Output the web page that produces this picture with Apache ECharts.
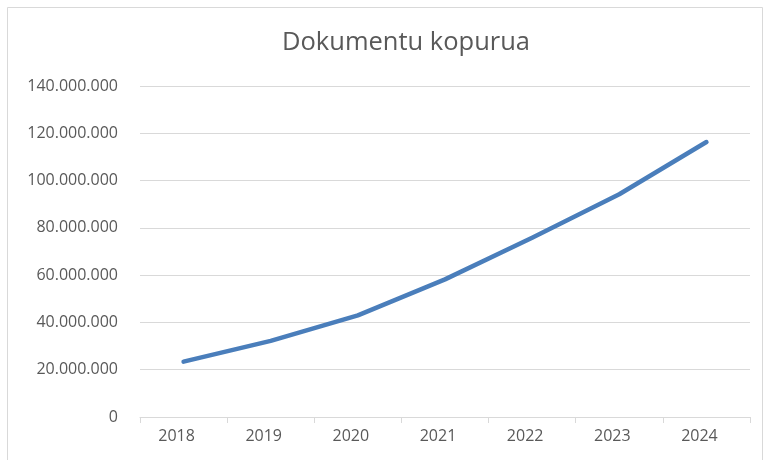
<!DOCTYPE html>
<html>
<head>
<meta charset="utf-8">
<script src="https://cdn.jsdelivr.net/npm/echarts@6/dist/echarts.min.js"></script>
<style>
  html, body { margin: 0; padding: 0; background: #fff; }
  #main { width: 765px; height: 460px; }
</style>
</head>
<body>
<div id="main"></div>
<script>
var years = ['2018', '2019', '2020', '2021', '2022', '2023', '2024'];
var docs = [23400000, 32200000, 43000000, 58200000, 75800000, 94200000, 116300000];

function fmt(v) {
    return String(v).replace(/\B(?=(\d{3})+(?!\d))/g, '.');
}

var myChart = echarts.init(document.getElementById('main'));

var option = {
    animation: false,
    backgroundColor: '#fff',
    title: {
        text: 'Dokumentu kopurua',
        left: 401,
        top: 25,
        textAlign: 'center',
        textStyle: {
            fontFamily: 'Open Sans',
            fontWeight: 'normal',
            fontSize: 25.5,
            color: '#595959'
        }
    },
    graphic: [{
        type: 'rect',
        shape: { x: 7.5, y: 7.5, width: 755, height: 470 },
        style: { fill: 'none', stroke: '#d9d9d9', lineWidth: 1 },
        silent: true
    }],
    grid: { left: 140, right: 15, top: 86, bottom: 43 },
    xAxis: {
        type: 'category',
        data: years,
        boundaryGap: true,
        axisLine: { lineStyle: { color: '#d9d9d9', width: 1 } },
        axisTick: { show: true, length: 6, lineStyle: { color: '#d9d9d9' } },
        axisLabel: {
            color: '#595959',
            fontFamily: 'Open Sans',
            fontSize: 16,
            margin: 11,
            padding: [0, 14, 0, 0]
        }
    },
    yAxis: {
        type: 'value',
        min: 0,
        max: 140000000,
        interval: 20000000,
        axisLine: { show: false },
        axisTick: { show: false },
        splitLine: { lineStyle: { color: '#d9d9d9', width: 1 } },
        axisLabel: {
            color: '#595959',
            fontFamily: 'Open Sans',
            fontSize: 16,
            margin: 22,
            formatter: fmt
        }
    },
    series: [{
        name: 'Dokumentu kopurua',
        type: 'line',
        data: docs,
        symbol: 'none',
        lineStyle: { color: '#4a7ebb', width: 4.5, cap: 'round', join: 'round' },
        itemStyle: { color: '#4a7ebb' }
    }]
};

myChart.setOption(option);
</script>
</body>
</html>
